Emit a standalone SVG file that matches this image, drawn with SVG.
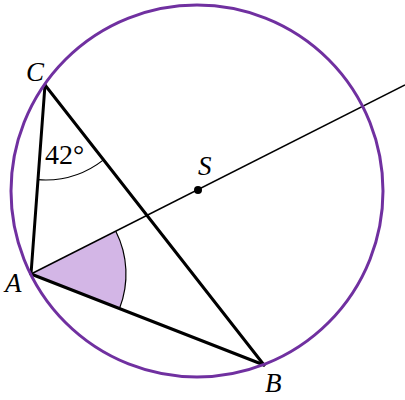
<svg xmlns="http://www.w3.org/2000/svg" width="405" height="400" viewBox="0 0 405 400">
<style>
.lbl{font-family:"Liberation Serif",serif;font-style:italic;font-size:27px;fill:#000}
.num{font-family:"Liberation Serif",serif;font-size:28px;fill:#000}
.side{stroke:#000;stroke-width:3;fill:none;stroke-linecap:round}
.thin{stroke:#000;stroke-width:1.5;fill:none}
.arc{stroke:#000;stroke-width:1.2;fill:none}
</style>
<rect width="405" height="400" fill="#fff"/>
<g id="sector-A">
<path d="M31,274 L115.8,231.2 A95,95 0 0 1 119.5,308.5 Z" fill="#D3B6E6" stroke="none"/>
<path d="M115.8,231.2 A95,95 0 0 1 119.5,308.5" class="arc"/>
</g>
<g id="angle-C">
<path d="M38,179.7 A95,95 0 0 0 103.5,159.9" class="arc"/>
<text class="num" x="45" y="164">42°</text>
</g>
<g id="connectors">
<line class="thin" x1="31" y1="274" x2="405" y2="85"/>
<line class="side" x1="31" y1="274" x2="45" y2="85"/>
<line class="side" x1="45" y1="85" x2="264" y2="365"/>
<line class="side" x1="31" y1="274" x2="264" y2="365"/>
</g>
<g id="circle">
<circle cx="197" cy="191" r="186" fill="none" stroke="#7030A0" stroke-width="3"/>
</g>
<g id="node-S">
<circle cx="198" cy="190" r="4" fill="#000"/>
<text class="lbl" x="198" y="175">S</text>
</g>
<g id="node-C"><text class="lbl" x="26" y="81">C</text></g>
<g id="node-A"><text class="lbl" x="5" y="292">A</text></g>
<g id="node-B"><text class="lbl" x="265" y="392">B</text></g>
</svg>
